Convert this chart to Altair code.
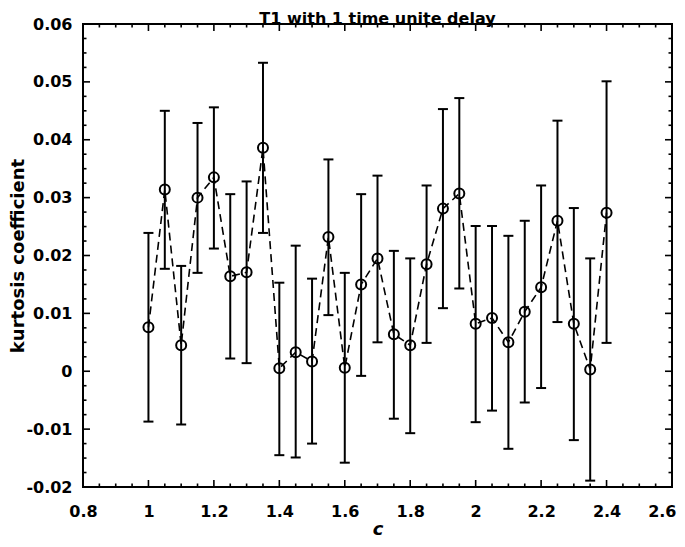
import altair as alt
import pandas as pd

# ---- data ----
c_values = [1.00, 1.05, 1.10, 1.15, 1.20, 1.25, 1.30, 1.35, 1.40, 1.45,
            1.50, 1.55, 1.60, 1.65, 1.70, 1.75, 1.80, 1.85, 1.90, 1.95,
            2.00, 2.05, 2.10, 2.15, 2.20, 2.25, 2.30, 2.35, 2.40]
kurtosis = [0.0076, 0.0314, 0.0045, 0.0300, 0.0335, 0.0164, 0.0171, 0.0386, 0.0005, 0.0033,
            0.0017, 0.0232, 0.0006, 0.0150, 0.0195, 0.0064, 0.0045, 0.0185, 0.0281, 0.0307,
            0.0082, 0.0092, 0.0050, 0.0103, 0.0145, 0.0260, 0.0082, 0.0003, 0.0274]
upper = [0.0239, 0.0450, 0.0182, 0.0429, 0.0456, 0.0306, 0.0328, 0.0533, 0.0153, 0.0217,
         0.0160, 0.0366, 0.0170, 0.0306, 0.0338, 0.0208, 0.0195, 0.0321, 0.0453, 0.0472,
         0.0251, 0.0251, 0.0234, 0.0260, 0.0321, 0.0433, 0.0282, 0.0195, 0.0501]
lower = [-0.0087, 0.0177, -0.0092, 0.0170, 0.0212, 0.0022, 0.0014, 0.0239, -0.0145, -0.0149,
         -0.0125, 0.0097, -0.0158, -0.0008, 0.0050, -0.0082, -0.0107, 0.0049, 0.0109, 0.0143,
         -0.0088, -0.0068, -0.0134, -0.0054, -0.0029, 0.0085, -0.0119, -0.0189, 0.0049]

x_major = [0.8, 1.0, 1.2, 1.4, 1.6, 1.8, 2.0, 2.2, 2.4, 2.6]
x_minor = [0.85, 0.9, 0.95, 1.05, 1.1, 1.15, 1.25, 1.3, 1.35, 1.45, 1.5, 1.55,
           1.65, 1.7, 1.75, 1.85, 1.9, 1.95, 2.05, 2.1, 2.15, 2.25, 2.3, 2.35,
           2.45, 2.5, 2.55]
y_major = [-0.02, -0.01, 0, 0.01, 0.02, 0.03, 0.04, 0.05, 0.06]
y_minor = [-0.0175, -0.015, -0.0125, -0.0075, -0.005, -0.0025,
           0.0025, 0.005, 0.0075, 0.0125, 0.015, 0.0175,
           0.0225, 0.025, 0.0275, 0.0325, 0.035, 0.0375,
           0.0425, 0.045, 0.0475, 0.0525, 0.055, 0.0575]

X_MIN, X_MAX = 0.8, 2.6
Y_MIN, Y_MAX = -0.02, 0.06
X_TITLE = "c"
Y_TITLE = "kurtosis coefficient"
TITLE = "T1 with 1 time unite delay"

df = pd.DataFrame({"c": c_values, "k": kurtosis, "hi": upper, "lo": lower})

FONT = "DejaVu Sans"
xscale = alt.Scale(domain=[X_MIN, X_MAX], nice=False, zero=False)
yscale = alt.Scale(domain=[Y_MIN, Y_MAX], nice=False, zero=False)

x_axis = alt.Axis(orient="bottom", values=x_major, domain=False, grid=False, ticks=False,
                  labelFont=FONT, labelFontSize=16, labelFontWeight="bold",
                  labelColor="black", labelPadding=16, labelFlush=False,
                  labelOverlap=False, labelExpr="format(datum.value, '.1~f')",
                  labelAlign={"condition": {"test": "datum.value > 2.55", "value": "right"},
                              "value": "center"},
                  labelOffset={"condition": {"test": "datum.value > 2.55", "value": 4},
                               "value": 0},
                  titleFont=FONT, titleFontSize=18, titleFontWeight="bold",
                  titleFontStyle="italic", titleColor="black",
                  titleY=47, titleBaseline="alphabetic")
y_axis = alt.Axis(orient="left", values=y_major, domain=False, grid=False, ticks=False,
                  labelFont=FONT, labelFontSize=16, labelFontWeight="bold",
                  labelColor="black", labelPadding=11, labelFlush=False,
                  labelOverlap=False,
                  labelExpr="replace(format(datum.value, '.2~f'), '\u2212', '-')",
                  titleFont=FONT, titleFontSize=18, titleFontWeight="bold",
                  titleColor="black", titleX=-60, titleBaseline="alphabetic")


def X(field):
    return alt.X(field, scale=xscale, axis=x_axis, title=X_TITLE)


def Y(field):
    return alt.Y(field, scale=yscale, axis=y_axis, title=Y_TITLE)


base = alt.Chart(df)

bars = base.mark_rule(color="black", strokeWidth=2).encode(
    x=X("c:Q"), y=Y("lo:Q"), y2="hi:Q",
)

caps = base.transform_fold(["lo", "hi"], as_=["end", "val"]).mark_tick(
    color="black", orient="horizontal", size=10, thickness=2, opacity=1
).encode(x=X("c:Q"), y=Y("val:Q"))

line = base.mark_line(color="black", strokeDash=[8, 5], strokeWidth=1.6).encode(
    x=X("c:Q"), y=Y("k:Q"),
)

points = base.mark_point(shape="circle", size=100, filled=False, color="black",
                         strokeWidth=2, opacity=1).encode(x=X("c:Q"), y=Y("k:Q"))


# inward axis ticks on all four sides of the box
def x_ticks(values, size, edge, sign):
    return alt.Chart(pd.DataFrame({"pos": values})).mark_tick(
        orient="vertical", size=size, thickness=1.6, color="black", opacity=1,
        yOffset=sign * size / 2
    ).encode(
        x=X("pos:Q"),
        y=alt.YDatum(edge, scale=yscale, axis=y_axis, title=Y_TITLE),
    )


def y_ticks(values, size, edge, sign):
    return alt.Chart(pd.DataFrame({"pos": values})).mark_tick(
        orient="horizontal", size=size, thickness=1.6, color="black", opacity=1,
        xOffset=sign * size / 2
    ).encode(
        y=Y("pos:Q"),
        x=alt.XDatum(edge, scale=xscale, axis=x_axis, title=X_TITLE),
    )


tick_layers = [
    x_ticks(x_major, 7, Y_MIN, -1), x_ticks(x_minor, 3.5, Y_MIN, -1),
    x_ticks(x_major, 7, Y_MAX, 1), x_ticks(x_minor, 3.5, Y_MAX, 1),
    y_ticks(y_major, 7, X_MIN, 1), y_ticks(y_minor, 3.5, X_MIN, 1),
    y_ticks(y_major, 7, X_MAX, -1), y_ticks(y_minor, 3.5, X_MAX, -1),
]

chart = alt.layer(bars, caps, line, points, *tick_layers).properties(
    width=589,
    height=463,
    title=alt.TitleParams(TITLE, font=FONT, fontSize=16, fontWeight="bold",
                          color="black", offset=0, dy=10.6, anchor="middle"),
    autosize=alt.AutoSizeParams(type="none"),
    padding={"left": 75, "top": 16, "right": 5, "bottom": 52},
).configure_view(stroke="black", strokeWidth=2)

chart.save("out.html", embed_options={"renderer": "svg", "actions": False})
